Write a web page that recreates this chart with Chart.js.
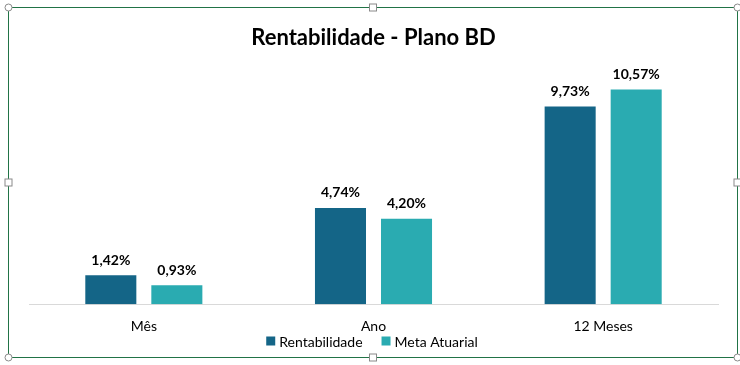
<!DOCTYPE html>
<html>
<head>
<meta charset="utf-8">
<script src="https://cdn.jsdelivr.net/npm/chart.js@4.4.0/dist/chart.umd.min.js"></script>
<style>
  html, body { margin: 0; padding: 0; background: #fff; }
  #wrap { position: relative; width: 740px; height: 365px; }
</style>
</head>
<body>
<div id="wrap"><canvas id="c" width="740" height="365"></canvas></div>
<script>
// ── Data ─────────────────────────────────────────────────────────────────────
const categories   = ['Mês', 'Ano', '12 Meses'];
const rentabilidade = [1.42, 4.74, 9.73];
const metaAtuarial  = [0.93, 4.20, 10.57];

const DARK = '#146587';
const TEAL = '#2AABB1';
const FONT = "Lato, 'Open Sans', sans-serif";

// value labels above the bars, Excel style "1,42%"
const valueLabels = {
  id: 'valueLabels',
  afterDatasetsDraw(chart) {
    const ctx = chart.ctx;
    ctx.save();
    ctx.font = 'bold 14px ' + FONT;
    ctx.fillStyle = '#000';
    ctx.textAlign = 'center';
    ctx.textBaseline = 'bottom';
    chart.data.datasets.forEach((ds, i) => {
      chart.getDatasetMeta(i).data.forEach((bar, j) => {
        const txt = ds.data[j].toFixed(2).replace('.', ',') + '%';
        ctx.fillText(txt, bar.x, bar.y - 8);
      });
    });
    ctx.restore();
  }
};

// legend sits tight under the category labels, like Excel does it
const tightLegend = {
  id: 'tightLegend',
  afterDraw(chart) {
    const ctx = chart.ctx;
    const y = 341, box = 9, gapBox = 4, gapItem = 19;
    ctx.save();
    ctx.font = '14px ' + FONT;
    ctx.textBaseline = 'middle';
    const items = chart.data.datasets.map(ds => ({ label: ds.label, color: ds.backgroundColor, w: ctx.measureText(ds.label).width }));
    const total = items.reduce((s, it) => s + box + gapBox + it.w, 0) + gapItem * (items.length - 1);
    let x = 372 - total / 2;
    items.forEach(it => {
      ctx.fillStyle = it.color;
      ctx.fillRect(x, y - box / 2, box, box);
      x += box + gapBox;
      ctx.fillStyle = '#000';
      ctx.fillText(it.label, x, y + 1);
      x += it.w + gapItem;
    });
    ctx.restore();
  }
};

// selection frame with handles (chart is selected in the screenshot)
const frame = {
  id: 'frame',
  afterDraw(chart) {
    const ctx = chart.ctx;
    const L = 8.5, T = 7.5, R = 737.5, B = 357.5;
    ctx.save();
    ctx.strokeStyle = '#217346';
    ctx.lineWidth = 1;
    ctx.strokeRect(L, T, R - L, B - T);
    ctx.fillStyle = '#fff';
    ctx.strokeStyle = '#8a8a8a';
    const mx = (L + R) / 2, my = (T + B) / 2;
    [[L, T], [R, T], [L, B], [R, B]].forEach(([x, y]) => {
      ctx.beginPath(); ctx.arc(x, y, 3.5, 0, Math.PI * 2); ctx.fill(); ctx.stroke();
    });
    [[mx, T], [mx, B], [L, my], [R, my]].forEach(([x, y]) => {
      ctx.fillRect(x - 3.5, y - 3.5, 7, 7); ctx.strokeRect(x - 3.5, y - 3.5, 7, 7);
    });
    ctx.restore();
  }
};

new Chart(document.getElementById('c'), {
  type: 'bar',
  data: {
    labels: categories,
    datasets: [
      { label: 'Rentabilidade', data: rentabilidade, backgroundColor: DARK },
      { label: 'Meta Atuarial', data: metaAtuarial, backgroundColor: TEAL }
    ]
  },
  options: {
    responsive: false,
    animation: false,
    events: [],
    categoryPercentage: 0.575,
    barPercentage: 0.773,
    layout: { padding: { left: 29, right: 22, top: 0, bottom: 16 } },
    scales: {
      x: {
        grid: { display: false, drawTicks: false },
        border: { color: '#d9d9d9', width: 1 },
        ticks: { color: '#000', font: { family: FONT, size: 14 }, padding: 14 }
      },
      y: {
        display: false,
        min: 0, max: 12
      }
    },
    plugins: {
      title: {
        display: true,
        text: 'Rentabilidade - Plano BD',
        color: '#000',
        font: { family: FONT, size: 22, weight: 'bold' },
        padding: { top: 25, bottom: 9 }
      },
      legend: { display: false },
      tooltip: { enabled: false }
    }
  },
  plugins: [valueLabels, tightLegend, frame]
});
</script>
</body>
</html>
